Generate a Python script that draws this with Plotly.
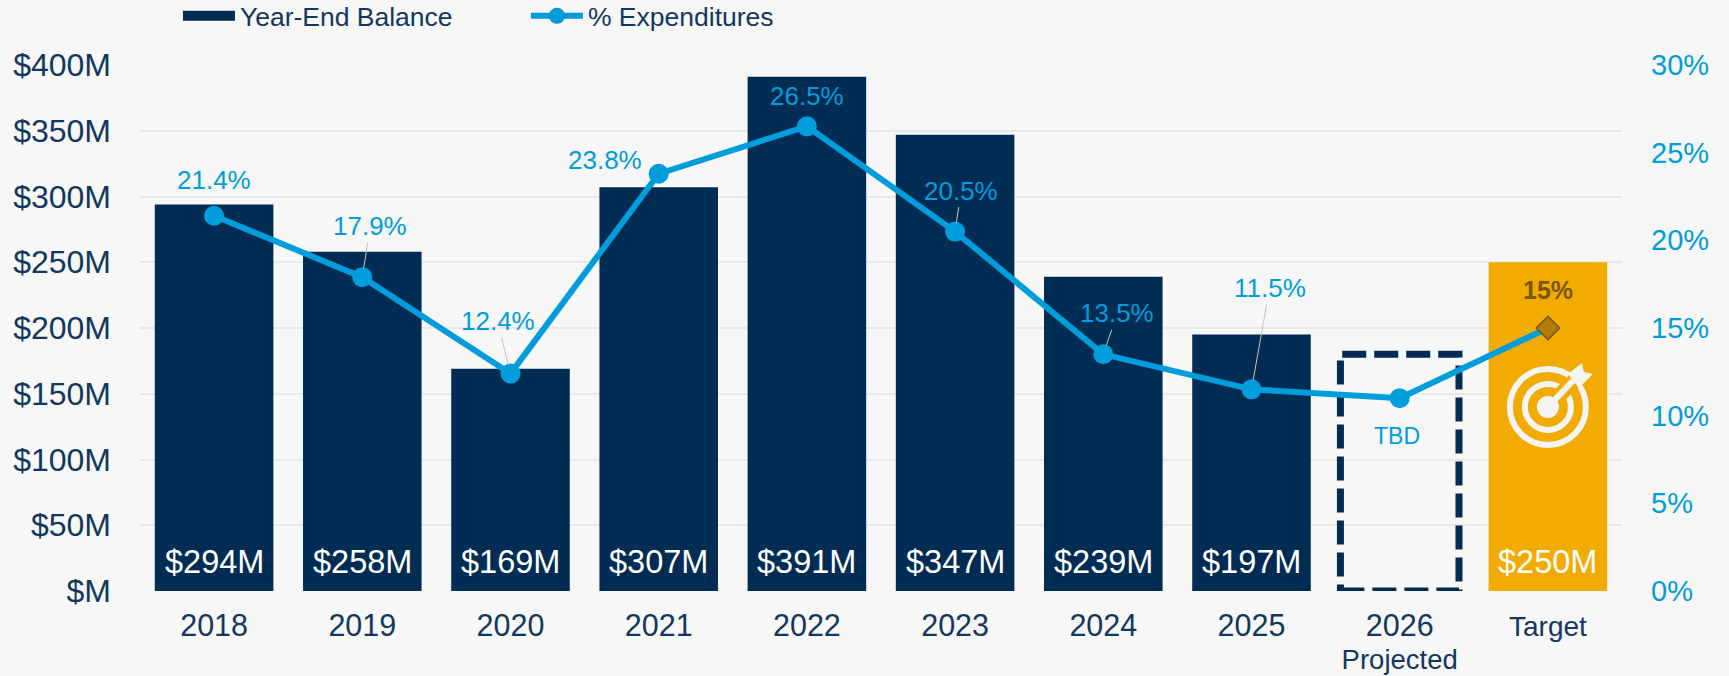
#!/usr/bin/env python3
"""Year-end balance vs % of expenditures, combo chart (Plotly)."""

import math
import plotly.graph_objects as go

categories = ["2018", "2019", "2020", "2021", "2022", "2023", "2024", "2025", "2026", "Target"]
tick_labels = ["2018", "2019", "2020", "2021", "2022", "2023", "2024", "2025", "2026", "Target"]
balance = [294, 258, 169, 307, 391, 347, 239, 195, 180, 250]
balance_labels = ["$294M", "$258M", "$169M", "$307M", "$391M", "$347M", "$239M", "$197M", "", "$250M"]
pct_expenditures = [21.4, 17.9, 12.4, 23.8, 26.5, 20.5, 13.5, 11.5, 11.0, 15]
pct_labels = ["21.4%", "17.9%", "12.4%", "23.8%", "26.5%", "20.5%", "13.5%", "11.5%", "TBD", "15%"]

left_ticks = [0, 50, 100, 150, 200, 250, 300, 350, 400]
left_tick_labels = ["$M", "$50M", "$100M", "$150M", "$200M", "$250M", "$300M", "$350M", "$400M"]
right_ticks = [0, 5, 10, 15, 20, 25, 30]
right_tick_labels = ["0%", "5%", "10%", "15%", "20%", "25%", "30%"]

NAVY = "#012C54"
TEXT_NAVY = "#12385F"
BLUE = "#009DDC"
GOLD = "#F2AB00"
BROWN = "#B07C0A"
DARK_BROWN = "#7A5606"
GRID = "#E8E8E8"
BG = "#F7F7F7"
ICON = "#F4F4F4"
FONT = "Liberation Sans"

PROJECTED = categories.index("2026")
TARGET = categories.index("Target")
ICON_Y = 140  # balance value the target icon is centred on

# pixel offset of each % label from its point, and which ones get a leader line
label_dx = [0, 8, -13, -54, 0, 6, 14, 18, -3, 0]
label_dy = [-36, -51, -53, -14, -30, -41, -41, -101, 38, -38]
has_leader = [False, True, True, False, False, True, True, True, False, False]

bar_colors = [NAVY] * len(categories)
bar_colors[PROJECTED] = "rgba(0,0,0,0)"
bar_colors[TARGET] = GOLD

marker_symbols = ["circle"] * len(categories)
marker_symbols[TARGET] = "diamond"
marker_colors = [BLUE] * len(categories)
marker_colors[TARGET] = BROWN
marker_sizes = [20] * len(categories)
marker_sizes[TARGET] = 18
marker_line_widths = [0] * len(categories)
marker_line_widths[TARGET] = 1.5


def x_tick(text):
    # the line height follows tickfont, the glyph sizes are set per line
    if text == "2026":
        return f"<span style='font-size:30.5px'>{text}</span><br><span style='font-size:27.5px'>Projected</span>"
    if text == "Target":
        return f"<span style='font-size:28px'>{text}</span>"
    return f"<span style='font-size:30.5px'>{text}</span>"


fig = go.Figure()

fig.add_trace(go.Bar(x=categories, y=balance, marker_color=bar_colors, marker_line_width=0,
                     showlegend=False, hoverinfo="x+y"))
# thick line entry, so the legend swatch gets the same wide shape as the reference
fig.add_trace(go.Scatter(x=[None], y=[None], mode="lines", name="Year-End Balance",
                         line=dict(color=NAVY, width=15)))
fig.add_trace(go.Scatter(x=categories, y=pct_expenditures, yaxis="y2", mode="lines+markers",
                         name="% Expenditures", line=dict(color=BLUE, width=6),
                         marker=dict(symbol=marker_symbols, color=marker_colors, size=marker_sizes,
                                     opacity=1, line=dict(color=DARK_BROWN, width=marker_line_widths))))

# balance labels at the foot of the bars (numeric x: "2018" would be read as a serial number)
for i, text in enumerate(balance_labels):
    if text:
        fig.add_annotation(x=i, y=0, text=text, showarrow=False, yanchor="middle", yshift=29,
                           font=dict(family=FONT, size=32.5, color="#FFFFFF"))

# % labels
for i, cat in enumerate(categories):
    is_target = i == TARGET
    font = dict(family=FONT, size=23 if i == PROJECTED else (25 if is_target else 26),
                color=DARK_BROWN if is_target else BLUE)
    text = f"<b>{pct_labels[i]}</b>" if is_target else pct_labels[i]
    if has_leader[i]:
        fig.add_annotation(x=i, y=pct_expenditures[i], yref="y2", text=text, font=font,
                           showarrow=True, arrowhead=0, arrowwidth=1, arrowcolor="#C4C4C4",
                           standoff=9, ax=label_dx[i], ay=label_dy[i])
    else:
        fig.add_annotation(x=i, y=pct_expenditures[i], yref="y2", text=text, font=font,
                           showarrow=False, xshift=label_dx[i], yshift=-label_dy[i])

# dashed outline of the projected bar
fig.add_shape(type="rect", layer="between", xref="x", yref="y",
              x0=PROJECTED - 0.4, x1=PROJECTED + 0.4, y0=0, y1=balance[PROJECTED],
              line=dict(color=NAVY, width=7, dash="24px,8px"))


# target icon: pixel sized, anchored on the target bar
def icon_shape(**kw):
    return dict(xref="x", yref="y", xsizemode="pixel", ysizemode="pixel",
                xanchor=TARGET, yanchor=ICON_Y, **kw)


for r, width, fill in [(38, 6, "rgba(0,0,0,0)"), (23, 6, "rgba(0,0,0,0)"), (11, 0, ICON)]:
    fig.add_shape(icon_shape(type="circle", x0=-r, x1=r, y0=-r, y1=r, fillcolor=fill,
                             line=dict(color=ICON, width=width)))
gap = [(r * math.cos(math.radians(45)), r * math.sin(math.radians(45))) for r in (14, 46)]
fig.add_shape(icon_shape(type="line", x0=gap[0][0], y0=gap[0][1], x1=gap[1][0], y1=gap[1][1],
                         line=dict(color=GOLD, width=15)))
fig.add_shape(icon_shape(type="line", x0=2, y0=2, x1=26, y1=27, line=dict(color=ICON, width=6)))
fig.add_shape(icon_shape(type="path", path="M 20 33 L 34 44 L 36 35 L 45 33 L 31 19 Z",
                         fillcolor=ICON, line=dict(color=ICON, width=0)))

fig.update_layout(
    width=1729, height=676,
    margin=dict(l=140, r=107, t=65, b=84.5, autoexpand=False),
    paper_bgcolor=BG, plot_bgcolor=BG,
    font=dict(family=FONT, color=TEXT_NAVY, size=29),
    bargap=0.2,
    legend=dict(orientation="h", x=0.0256, xref="paper", xanchor="left", y=1.093, yanchor="middle",
                itemwidth=52, entrywidth=281, font=dict(size=26.5, color=TEXT_NAVY),
                bgcolor="rgba(0,0,0,0)", itemclick=False, itemdoubleclick=False),
    xaxis=dict(type="category", categoryorder="array", categoryarray=categories, range=[-0.5, 9.5],
               tickmode="array", tickvals=categories, ticktext=[x_tick(t) for t in tick_labels], ticks="",
               showgrid=False, zeroline=False, showline=False, ticklabelstandoff=19,
               tickfont=dict(size=25, color=TEXT_NAVY)),
    yaxis=dict(range=[0, 400], tickmode="array", tickvals=left_ticks, ticktext=left_tick_labels,
               gridcolor=GRID, gridwidth=2, zeroline=False, showline=False, ticks="",
               ticklabelstandoff=28, tickfont=dict(size=32, color=TEXT_NAVY)),
    yaxis2=dict(range=[0, 30], overlaying="y", side="right", tickmode="array", tickvals=right_ticks,
                ticktext=right_tick_labels, showgrid=False, zeroline=False, showline=False, ticks="",
                ticklabelstandoff=28, tickfont=dict(size=29, color=BLUE)),
)

fig.write_html("out.html", post_script="document.body.style.margin='0';",
               config=dict(displayModeBar=False))
